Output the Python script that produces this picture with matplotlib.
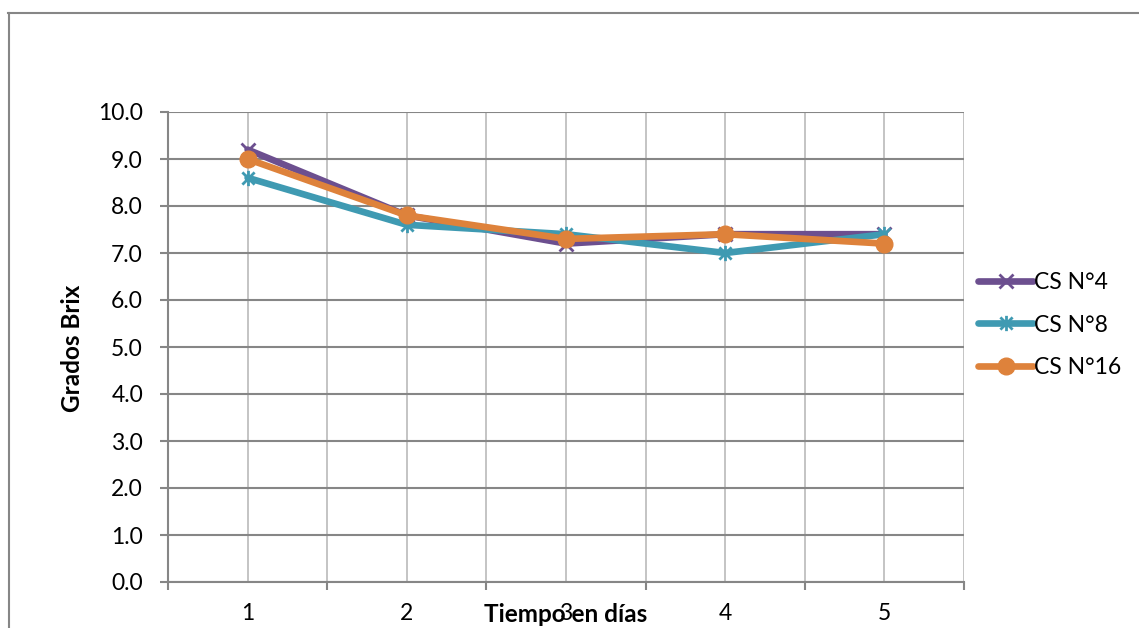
import matplotlib
matplotlib.use("Agg")
import matplotlib.pyplot as plt
from matplotlib.path import Path
from matplotlib.lines import Line2D

plt.rcParams['font.family'] = ['Lato', 'DejaVu Sans']

days = [1, 2, 3, 4, 5]
day_labels = ["1", "2", "3", "4", "5"]
series_names = ["CS N°4", "CS N°8", "CS N°16"]
cs4 = [9.2, 7.8, 7.2, 7.4, 7.4]
cs8 = [8.6, 7.6, 7.4, 7.0, 7.4]
cs16 = [9.0, 7.8, 7.3, 7.4, 7.2]
y_ticks = [0, 1, 2, 3, 4, 5, 6, 7, 8, 9, 10]

W, H = 1139, 628
fig = plt.figure(figsize=(W / 100, H / 100), dpi=100)
ax = fig.add_axes([168 / W, 1 - 582 / H, (964 - 168) / W, (582 - 112) / H])

grid_dark = "#868686"
grid_light = "#BFBFBF"

# vertical gridlines at category centres and boundaries
for xv in [0.5 + 0.5 * i for i in range(11)]:
    ax.axvline(xv, color=grid_light, lw=1.3, zorder=0)
for yv in y_ticks:
    ax.axhline(yv, color=grid_dark, lw=1.5, zorder=0.5)

star = Path([(-1, -1), (1, 1), (-1, 1), (1, -1), (0, -1.25), (0, 1.25)],
            [Path.MOVETO, Path.LINETO, Path.MOVETO, Path.LINETO, Path.MOVETO, Path.LINETO])

ax.plot(days, cs4, color="#6C4F8F", lw=4.8, marker="x", ms=10, mew=2,
        label=series_names[0], zorder=3, solid_capstyle="round")
ax.plot(days, cs8, color="#3F9AB2", lw=4.8, marker=star, ms=11, mew=2,
        label=series_names[1], zorder=4, solid_capstyle="round")
ax.plot(days, cs16, color="#DE823B", lw=4.8, marker="o", ms=12,
        label=series_names[2], zorder=5, solid_capstyle="round")

ax.set_xlim(0.5, 5.5)
ax.set_ylim(0, 10)
ax.set_yticks(y_ticks)
ax.set_yticklabels([f"{v:.1f}" for v in y_ticks])
ax.set_xticks(days)
ax.set_xticklabels(day_labels)
ax.set_xticks([0.5 + i for i in range(6)], minor=True)

ax.tick_params(axis="y", which="major", length=6, width=1.5, color=grid_dark,
               labelsize=16.5, pad=12, direction="out")
ax.tick_params(axis="x", which="major", length=0, labelsize=16.5, pad=15)
ax.tick_params(axis="x", which="minor", length=6, width=1.5, color=grid_dark,
               direction="out")

for s in ["top", "right"]:
    ax.spines[s].set_visible(False)
for s in ["left", "bottom"]:
    ax.spines[s].set_color(grid_dark)
    ax.spines[s].set_linewidth(1.5)
    ax.spines[s].set_zorder(1)

fig.text(72 / W, 1 - 348 / H, "Grados Brix", rotation=90, ha="center",
         va="center", fontsize=17.5, fontweight="bold")
fig.text(566 / W, 1 - 614 / H, "Tiempo en días", ha="center", va="center",
         fontsize=17.5, fontweight="bold")

leg = ax.legend(loc="center left", bbox_to_anchor=(978 / W, 1 - 325 / H),
                bbox_transform=fig.transFigure, frameon=False, fontsize=16.5,
                handlelength=2.4, handletextpad=0.05, labelspacing=0.95,
                borderpad=0, borderaxespad=0)

# outer chart frame (left and top edges visible)
fig.add_artist(Line2D([8.5 / W, 8.5 / W], [0, 1 - 13 / H], transform=fig.transFigure,
                      color=grid_dark, lw=1.5))
fig.add_artist(Line2D([8 / W, 1], [1 - 13 / H, 1 - 13 / H], transform=fig.transFigure,
                      color=grid_dark, lw=1.5))

fig.savefig("out.png", dpi=100)
